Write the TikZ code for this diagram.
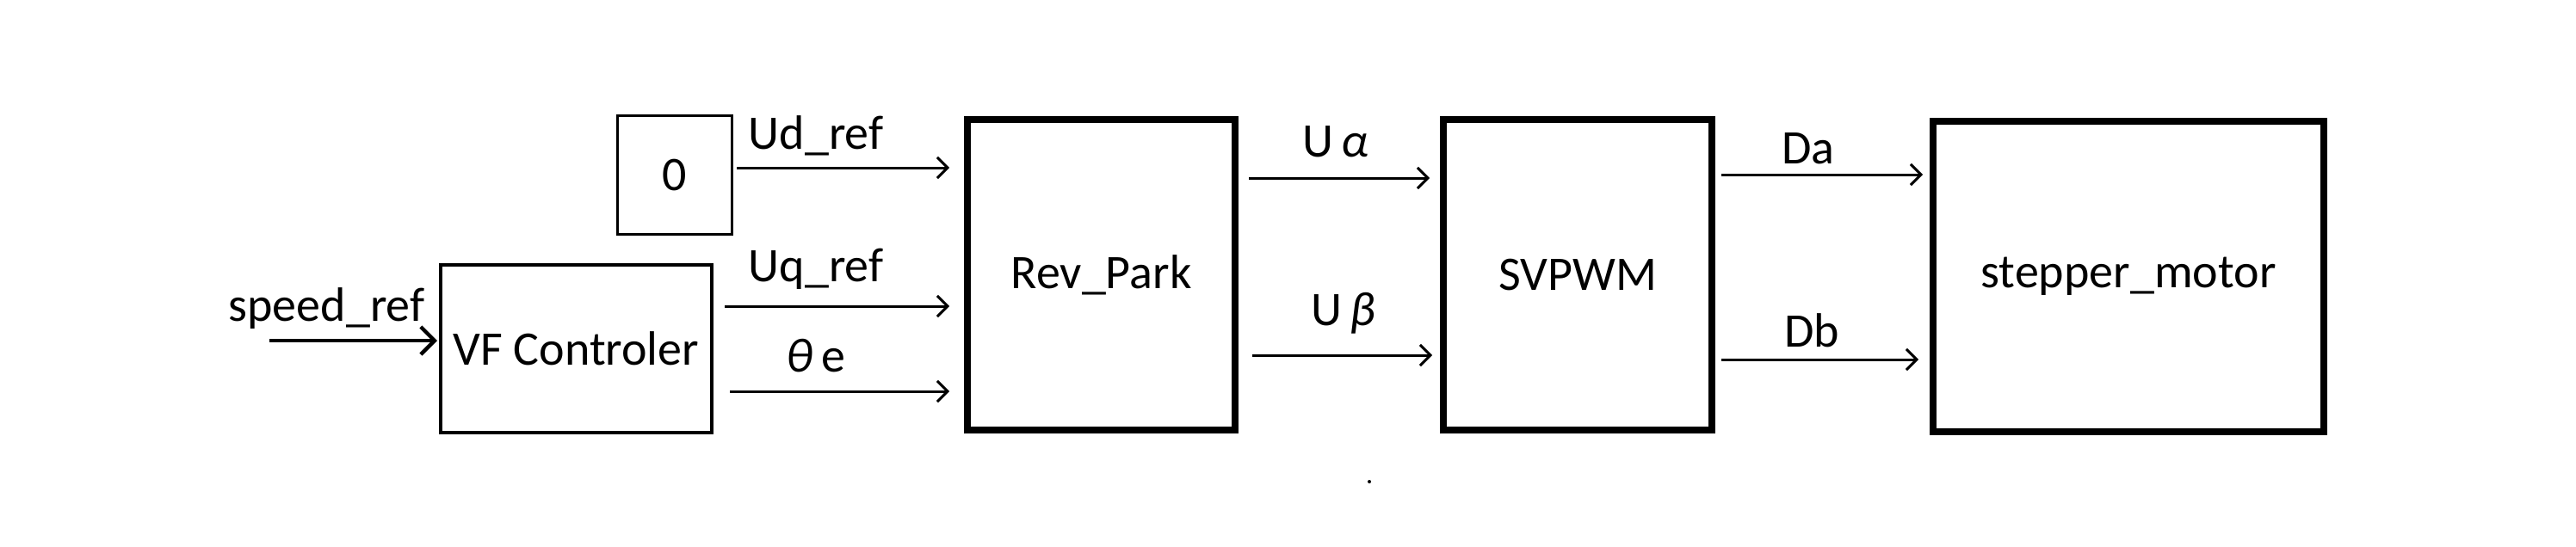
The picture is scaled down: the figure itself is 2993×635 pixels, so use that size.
\documentclass[tikz,border=0pt]{standalone}
\usepackage{fontspec}
\setmainfont{Carlito}
\usetikzlibrary{arrows.meta}
\begin{document}
\begin{tikzpicture}[x=0.25pt,y=-0.25pt,
  font=\fontsize{14}{16}\selectfont,
  blk/.style={draw,rectangle,inner sep=0pt,line width=2pt},
  arr/.style={line width=0.75pt,-{Straight Barb[length=3pt,width=6pt,line width=0.75pt]}},
  lbl/.style={anchor=base,inner sep=0pt}]
\useasboundingbox (0,0) rectangle (2993,635);
% blocks
\node[blk,line width=0.75pt,minimum width=133*0.25pt,minimum height=138*0.25pt] (zero) at (784,203.5) {0};
\node[blk,line width=1pt,minimum width=315*0.25pt,minimum height=195*0.25pt] (vf) at (669.5,405.5) {VF Controler};
\node[blk,minimum width=311*0.25pt,minimum height=361*0.25pt] (rev) at (1279.5,319.5) {Rev\_Park};
\node[blk,minimum width=312*0.25pt,minimum height=361*0.25pt] (svpwm) at (1833,319.5) {SVPWM};
\node[blk,minimum width=454*0.25pt,minimum height=361*0.25pt] (motor) at (2473,321.5) {stepper\_motor};
% input
\coordinate (sp) at (313,396);
\draw[arr,line width=1.1pt,-{Straight Barb[length=4pt,width=8pt,line width=1.1pt]},shorten >=0.5pt] (sp) -- (vf.west |- sp);
\node[lbl] (lsp) at (379.5,373) {speed\_ref};
% connectors
\draw[arr,shorten <=1.1pt,shorten >=4.25pt] (zero.east |- 0,195) -- (rev.west |- 0,195);
\draw[arr,shorten <=3.25pt,shorten >=4.25pt] (vf.east |- 0,356) -- (rev.west |- 0,356);
\draw[arr,shorten <=4.75pt,shorten >=4.25pt] (vf.east |- 0,455) -- (rev.west |- 0,455);
\draw[arr,shorten <=3pt,shorten >=3pt] (rev.east |- 0,207) -- (svpwm.west |- 0,207);
\draw[arr,shorten <=4pt,shorten >=2.25pt] (rev.east |- 0,413) -- (svpwm.west |- 0,413);
\draw[arr,shorten <=1.75pt,shorten >=2pt] (svpwm.east |- 0,203) -- (motor.west |- 0,203);
\draw[arr,shorten <=1.75pt,shorten >=3.25pt] (svpwm.east |- 0,418) -- (motor.west |- 0,418);
% labels
\node[lbl] (lud) at (948,173) {Ud\_ref};
\node[lbl] (luq) at (948,327) {Uq\_ref};
\node[lbl] (lth) at (948,432) {\textit{θ}\,e};
\node[lbl] (lua) at (1552,182) {U\,\textit{α}};
\node[lbl] (lub) at (1561,378) {U\,\textit{β}};
\node[lbl] (lda) at (2101,190) {Da};
\node[lbl] (ldb) at (2105,403) {Db};
% stray dot
\fill (1591,560) circle[radius=2];
\end{tikzpicture}
\end{document}
